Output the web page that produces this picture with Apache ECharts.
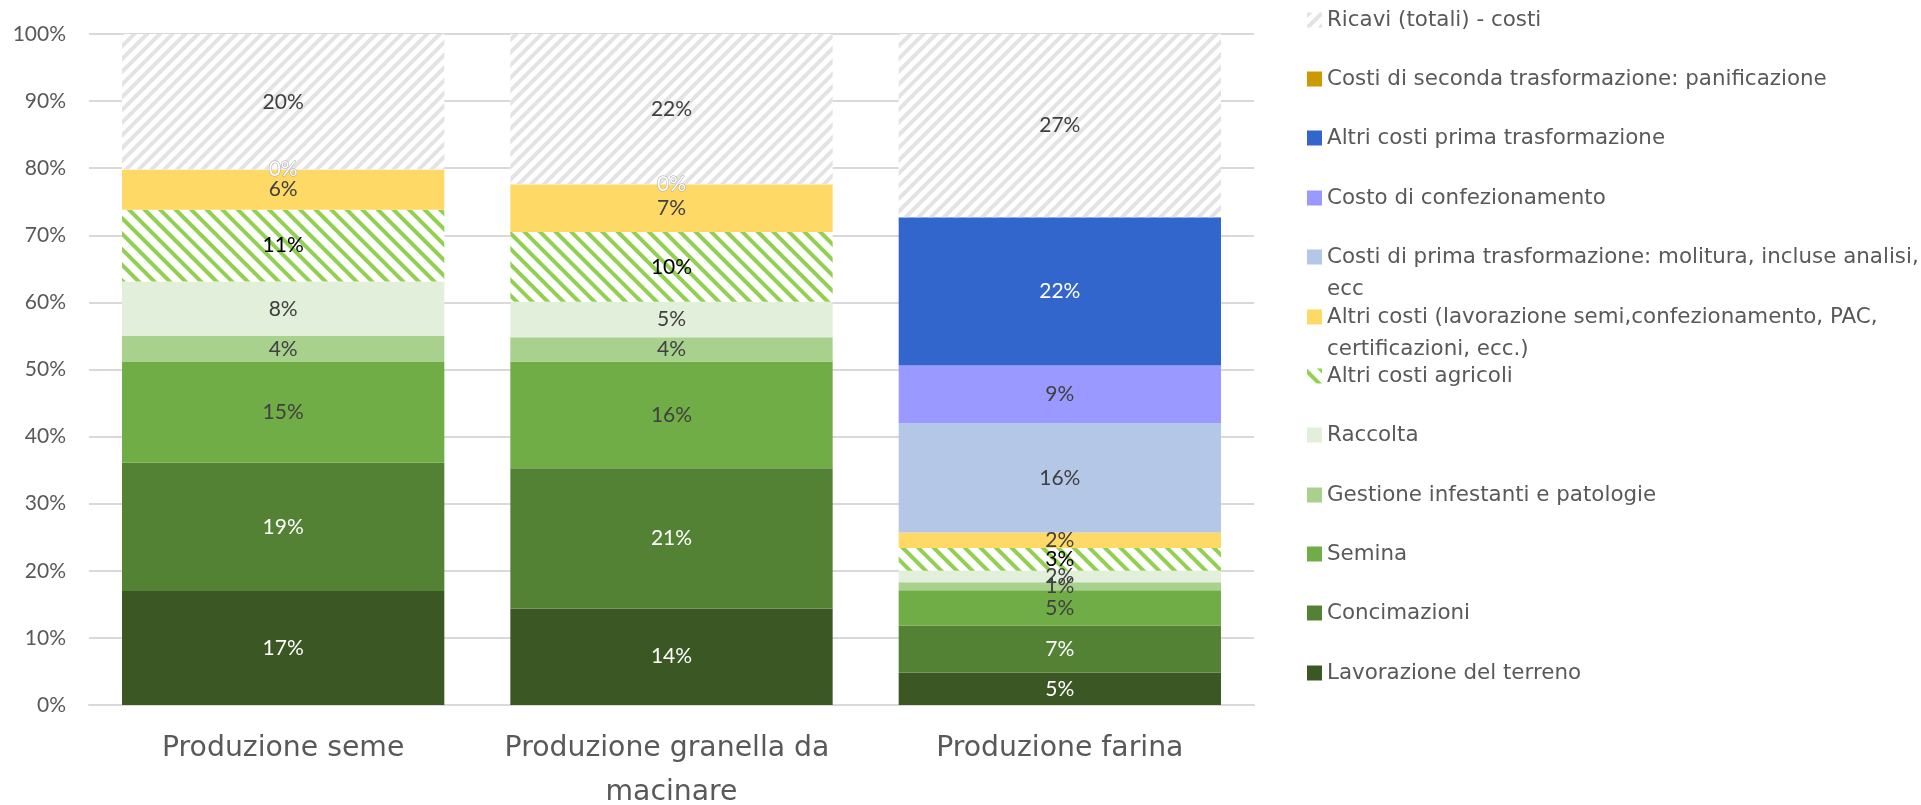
<!DOCTYPE html>
<html>
<head>
<meta charset="utf-8">
<script src="https://cdn.jsdelivr.net/npm/echarts@6/dist/echarts.min.js"></script>
<style>html,body{margin:0;padding:0;background:#fff}#c{width:1921px;height:805px}</style>
</head>
<body>
<div id="c"></div>
<script>
const categories = ['Produzione seme', 'Produzione granella da macinare', 'Produzione farina'];
const yTicks = [0, 10, 20, 30, 40, 50, 60, 70, 80, 90, 100];

const lavorazione   = [17.0, 14.4, 4.8];
const concimazioni  = [19.1, 20.9, 7.0];
const semina        = [15.0, 15.9, 5.3];
const gestione      = [3.9, 3.6, 1.2];
const raccolta      = [8.1, 5.3, 1.7];
const agricoli      = [10.7, 10.4, 3.4];
const altriCosti    = [6.0, 7.1, 2.3];
const primaTrasf    = [null, null, 16.3];
const confez        = [null, null, 8.6];
const altriPrima    = [null, null, 22.1];
const panificazione = [0, 0, null];
const ricavi        = [20.2, 22.4, 27.3];

const seriesNames = [
  'Lavorazione del terreno', 'Concimazioni', 'Semina', 'Gestione infestanti e patologie', 'Raccolta',
  'Altri costi agricoli', 'Altri costi (lavorazione semi,confezionamento, PAC, certificazioni, ecc.)',
  'Costi di prima trasformazione: molitura, incluse analisi, ecc', 'Costo di confezionamento',
  'Altri costi prima trasformazione', 'Costi di seconda trasformazione: panificazione', 'Ricavi (totali) - costi'
];
const seriesData = [lavorazione, concimazioni, semina, gestione, raccolta, agricoli, altriCosti,
  primaTrasf, confez, altriPrima, panificazione, ricavi];

// legend display text (line breaks as in the reference)
const legendText = {
  'Costi di prima trasformazione: molitura, incluse analisi, ecc': 'Costi di prima trasformazione: molitura, incluse analisi,\necc',
  'Altri costi (lavorazione semi,confezionamento, PAC, certificazioni, ecc.)': 'Altri costi (lavorazione semi,confezionamento, PAC,\ncertificazioni, ecc.)'
};

// styles
const fills = ['#3a5724', '#548235', '#70ad47', '#a9d18e', '#e2efda', '#ffffff', '#ffd966',
  '#b4c7e7', '#9999ff', '#3366cc', '#cc9900', '#ffffff'];
const labelColors = ['#ffffff', '#ffffff', '#404040', '#404040', '#404040', '#000000', '#404040',
  '#404040', '#404040', '#ffffff', '#ffffff', '#404040'];
const decals = {
  5: { symbol: 'rect', symbolSize: 1, dashArrayX: [1, 0], dashArrayY: [4, 7], rotation: Math.PI / 4, color: '#92d050' },
  11: { symbol: 'rect', symbolSize: 1, dashArrayX: [1, 0], dashArrayY: [4, 5], rotation: -Math.PI / 4, color: '#e3e3e3' }
};
// legend first-line centres (y) from top down
const legendOrder = [11, 10, 9, 8, 7, 6, 5, 4, 3, 2, 1, 0];
const legendY = [20, 79, 138, 198, 257, 317, 376, 435, 495, 554, 613, 673];

const FONT_LBL = 'Lato';
const FONT_UI = 'DejaVu Sans';
const LH = 32;

const series = seriesData.map((d, i) => {
  const isZeroSeries = i === 10;
  return {
    name: seriesNames[i],
    type: 'bar',
    stack: 'tot',
    data: d,
    barCategoryGap: '17%',
    itemStyle: Object.assign({ color: fills[i] }, decals[i] ? { decal: decals[i] } : {}),
    label: {
      show: true,
      position: 'inside',
      fontFamily: FONT_LBL,
      fontSize: 21,
      color: labelColors[i],
      textBorderColor: isZeroSeries ? '#a6a6a6' : 'transparent',
      textBorderWidth: isZeroSeries ? 1 : 0,
      formatter: p => (p.value == null ? '' : Math.round(p.value) + '%')
    },
    emphasis: { disabled: true }
  };
});

const legends = legendOrder.map((si, k) => {
  const name = seriesNames[si];
  const txt = legendText[name] || name;
  const lines = txt.split('\n').length;
  const h = LH * lines;
  const icon = lines === 1 ? 'rect'
    : 'path://M0,0H0.01V0.01H0Z M0,' + (LH / 2 - 7.5) + 'H15V' + (LH / 2 + 7.5) + 'H0Z M0,' + (h - 0.01) + 'H0.01V' + h + 'H0Z';
  return {
    data: [name],
    orient: 'vertical',
    left: 1307,
    top: legendY[k] - LH / 2,
    padding: 0,
    itemWidth: 15,
    itemHeight: lines === 1 ? 15 : h,
    icon: icon,
    selectedMode: false,
    formatter: n => legendText[n] || n,
    textStyle: { fontFamily: FONT_UI, fontSize: 21.4, color: '#595959', lineHeight: LH }
  };
});

const chart = echarts.init(document.getElementById('c'), null, { renderer: 'canvas' });
chart.setOption({
  backgroundColor: '#ffffff',
  animation: false,
  grid: { left: 89, right: 667, top: 34, bottom: 100, containLabel: false, outerBoundsMode: 'none' },
  legend: legends,
  xAxis: {
    type: 'category',
    data: categories,
    axisTick: { show: false },
    axisLine: { lineStyle: { color: '#d9d9d9', width: 2 } },
    axisLabel: {
      fontFamily: FONT_UI, fontSize: 28.3, color: '#595959', lineHeight: 44, margin: 22,
      width: 360, overflow: 'break', interval: 0
    }
  },
  yAxis: {
    type: 'value',
    min: yTicks[0], max: yTicks[yTicks.length - 1], interval: 10,
    axisLine: { show: false }, axisTick: { show: false },
    splitLine: { lineStyle: { color: '#d9d9d9', width: 2 } },
    axisLabel: { fontFamily: FONT_LBL, fontSize: 21, color: '#595959', margin: 23, formatter: v => v + '%' }
  },
  series: series
});
</script>
</body>
</html>
